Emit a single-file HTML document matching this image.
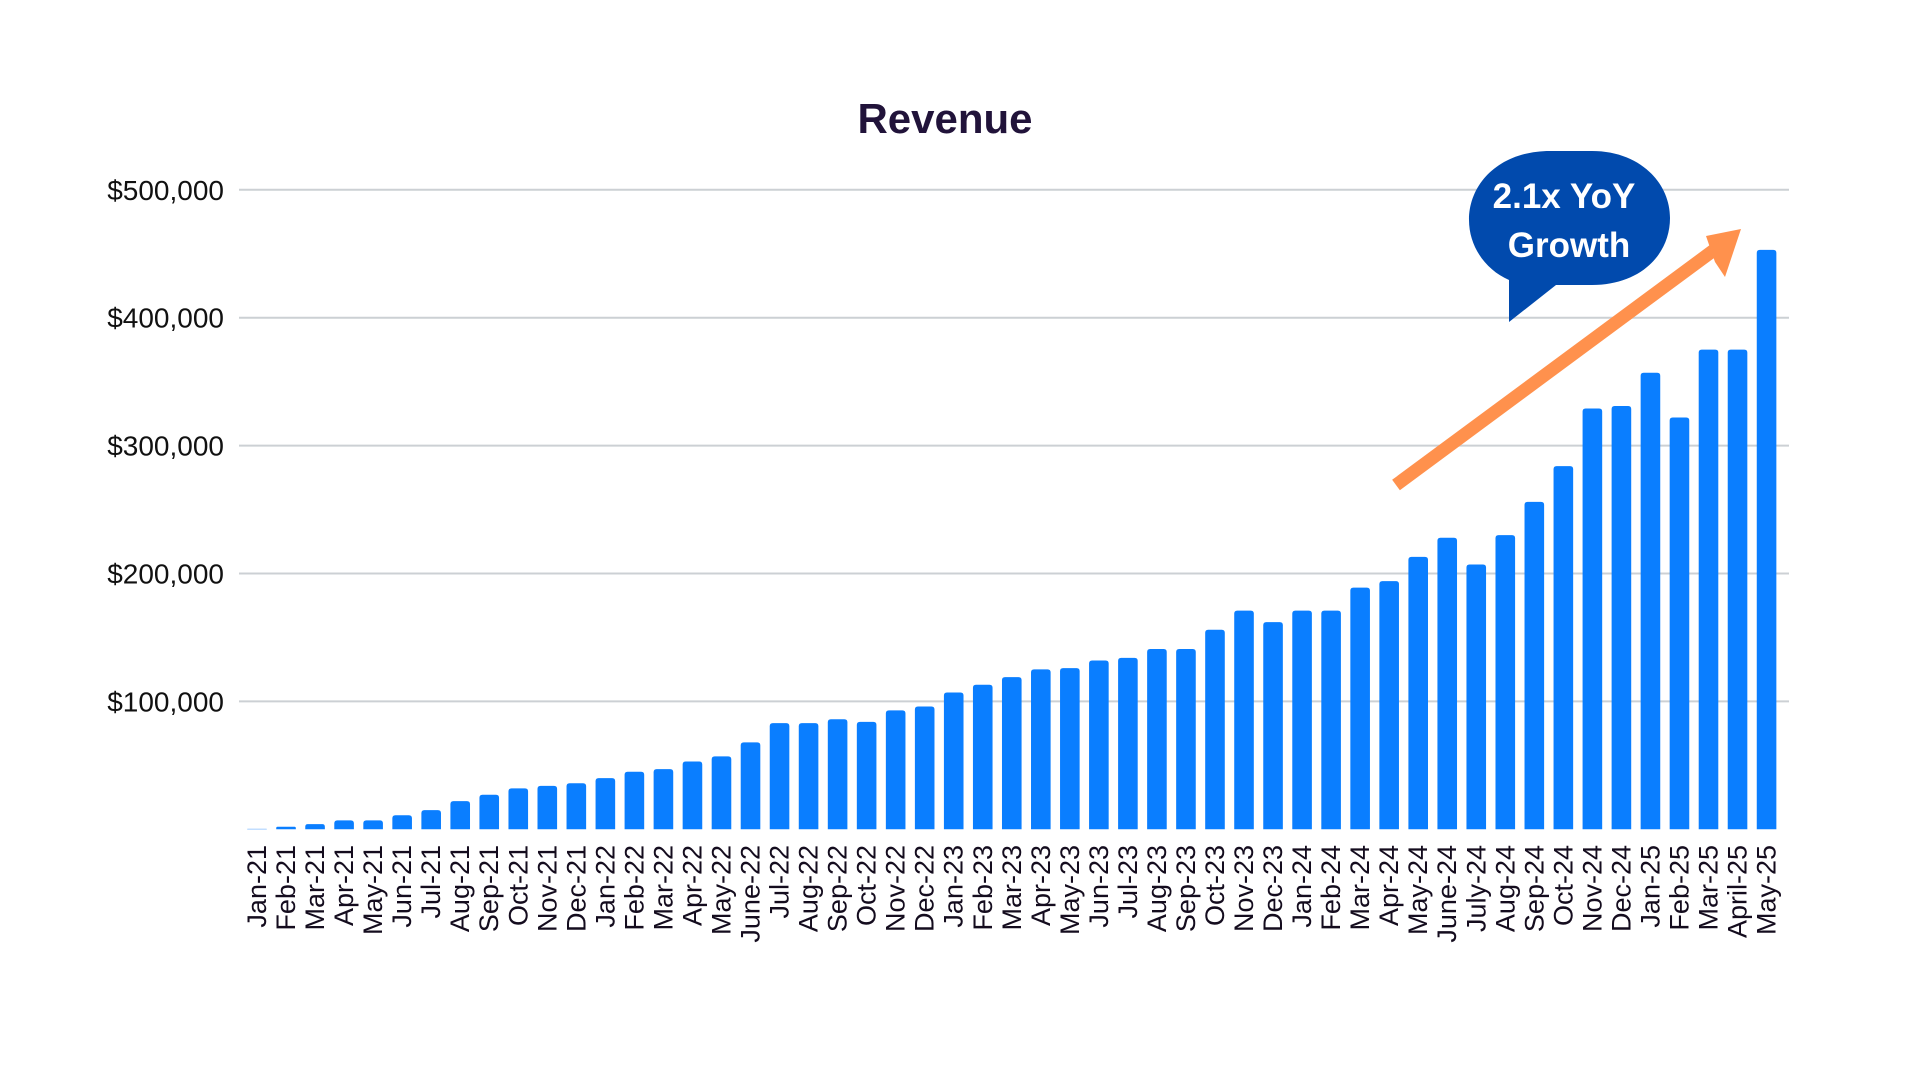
<!DOCTYPE html>
<html><head><meta charset="utf-8"><style>
html,body{margin:0;padding:0;background:#fff;}
svg{display:block;font-family:"Liberation Sans",sans-serif;}
</style></head><body>
<svg id="chart" width="1920" height="1080" viewBox="0 0 1920 1080">
<rect width="1920" height="1080" fill="#fff"/>
<text x="945" y="133" text-anchor="middle" font-size="42" font-weight="bold" fill="#21133a">Revenue</text>
<g id="grid"></g><g id="bars"></g><g id="xlabels"></g>
<g>
<path d="M1550,151 L1592,151 C1640,151 1670,183 1670,218 C1670,255 1640,285 1592,285 L1556,285 L1509,322 L1509,280 C1486,270 1469,247 1469,220 C1469,183 1500,151 1550,151 Z" fill="#014aad"/>
<text x="1564" y="208" text-anchor="middle" font-size="35" font-weight="bold" fill="#fff">2.1x YoY</text>
<text x="1569" y="257" text-anchor="middle" font-size="35" font-weight="bold" fill="#fff">Growth</text>
<line x1="1396" y1="485" x2="1714" y2="250" stroke="#ff914d" stroke-width="13"/>
<polygon points="1741,229 1725,277 1715,262 1706,236" fill="#ff914d"/>
</g>
</svg>
<script>
const categories=["Jan-21","Feb-21","Mar-21","Apr-21","May-21","Jun-21","Jul-21","Aug-21","Sep-21","Oct-21","Nov-21","Dec-21","Jan-22","Feb-22","Mar-22","Apr-22","May-22","June-22","Jul-22","Aug-22","Sep-22","Oct-22","Nov-22","Dec-22","Jan-23","Feb-23","Mar-23","Apr-23","May-23","Jun-23","Jul-23","Aug-23","Sep-23","Oct-23","Nov-23","Dec-23","Jan-24","Feb-24","Mar-24","Apr-24","May-24","June-24","July-24","Aug-24","Sep-24","Oct-24","Nov-24","Dec-24","Jan-25","Feb-25","Mar-25","April-25","May-25"];
const revenue=[300,2000,4000,7000,7000,11000,15000,22000,27000,32000,34000,36000,40000,45000,47000,53000,57000,68000,83000,83000,86000,84000,93000,96000,107000,113000,119000,125000,126000,132000,134000,141000,141000,156000,171000,162000,171000,171000,189000,194000,213000,228000,207000,230000,256000,284000,329000,331000,357000,322000,375000,375000,453000];
const yTicks=[100000,200000,300000,400000,500000];
const yTickLabels=["$100,000","$200,000","$300,000","$400,000","$500,000"];
const NS="http://www.w3.org/2000/svg";
const y0=829.3, pxPer=127.9/100000;
function yScale(v){return y0-v*pxPer;}
const x0=257, pitch=29.03, bw=19.6;
function xScale(i){return x0+i*pitch;}
const grid=document.getElementById('grid');
yTicks.forEach((t,i)=>{
  const l=document.createElementNS(NS,'line');
  l.setAttribute('x1',239);l.setAttribute('x2',1789);
  l.setAttribute('y1',yScale(t));l.setAttribute('y2',yScale(t));
  l.setAttribute('stroke','#ccd0d4');l.setAttribute('stroke-width','2');
  
  
  grid.appendChild(l);
  const tx=document.createElementNS(NS,'text');
  tx.setAttribute('x',224);tx.setAttribute('y',yScale(t)+10);
  tx.setAttribute('text-anchor','end');tx.setAttribute('font-size','28');tx.setAttribute('fill','#111');
  tx.textContent=yTickLabels[i];
  
  
  grid.appendChild(tx);
});
const bars=document.getElementById('bars'), xl=document.getElementById('xlabels');
categories.forEach((c,i)=>{
  const v=revenue[i], x=xScale(i)-bw/2, top=yScale(v), h=Math.max(0,y0-top);
  const r=Math.min(3,h/2);
  const p=document.createElementNS(NS,'path');
  p.setAttribute('d',`M${x},${y0} L${x},${top+r} Q${x},${top} ${x+r},${top} L${x+bw-r},${top} Q${x+bw},${top} ${x+bw},${top+r} L${x+bw},${y0} Z`);
  p.setAttribute('fill','#0a7eff');
  
  
  bars.appendChild(p);
  const t=document.createElementNS(NS,'text');
  const lx=xScale(i)+9, ly=845;
  t.setAttribute('x',lx);t.setAttribute('y',ly);
  t.setAttribute('transform',`rotate(-90 ${lx} ${ly})`);
  t.setAttribute('text-anchor','end');t.setAttribute('font-size','27');t.setAttribute('fill','#140c1e');
  t.textContent=c;
  
  
  xl.appendChild(t);
});
</script>
</body></html>
